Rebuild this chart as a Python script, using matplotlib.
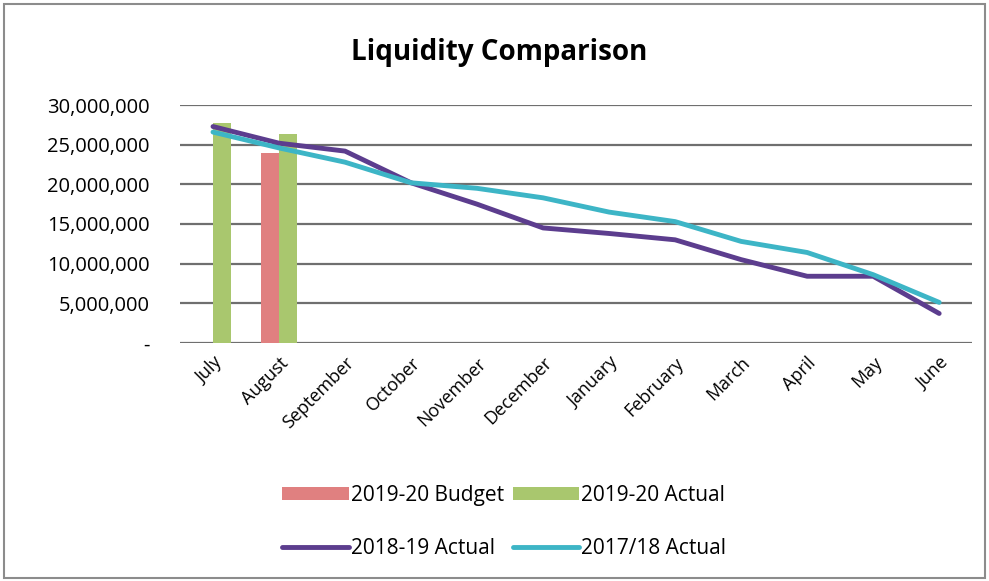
import numpy as np
import matplotlib.pyplot as plt
from matplotlib.patches import Rectangle
from matplotlib.ticker import FuncFormatter

months = ["July", "August", "September", "October", "November", "December",
          "January", "February", "March", "April", "May", "June"]
budget_1920 = [0, 23.9e6] + [np.nan] * 10
actual_1920 = [27.7e6, 26.3e6] + [np.nan] * 10
actual_1819 = [27.3e6, 25.2e6, 24.2e6, 20.2e6, 17.5e6, 14.5e6,
               13.8e6, 13.0e6, 10.5e6, 8.4e6, 8.4e6, 3.7e6]
actual_1718 = [26.6e6, 24.6e6, 22.8e6, 20.2e6, 19.5e6, 18.3e6,
               16.5e6, 15.3e6, 12.8e6, 11.4e6, 8.6e6, 5.1e6]

plt.rcParams['font.family'] = ['Open Sans', 'DejaVu Sans']

fig = plt.figure(figsize=(9.89, 5.81), dpi=100)
fig.patches.append(Rectangle((0.004, 0.005), 0.992, 0.988, transform=fig.transFigure,
                             fill=False, edgecolor='#8c8c8c', linewidth=1.5))
ax = fig.add_axes([0.182, 0.410, 0.801, 0.409])

x = np.arange(len(months))
w = 0.27
red = '#E08080'
green = '#A9C76E'
purple = '#5C3D8E'
cyan = '#3DB5C6'

b1 = ax.bar(x - w / 2, budget_1920, w, color=red, label='2019-20 Budget', zorder=2)
b2 = ax.bar(x + w / 2, actual_1920, w, color=green, label='2019-20 Actual', zorder=2)
l1, = ax.plot(x, actual_1819, color=purple, linewidth=3.5, label='2018-19 Actual',
              solid_capstyle='round', zorder=3)
l2, = ax.plot(x, actual_1718, color=cyan, linewidth=3.5, label='2017/18 Actual',
              solid_capstyle='round', zorder=3)

ax.set_ylim(0, 30e6)
ax.set_yticks(np.arange(0, 30e6 + 1, 5e6))
ax.yaxis.set_major_formatter(FuncFormatter(lambda v, p: '-' if v == 0 else f'{v:,.0f}'))
ax.set_xlim(-0.5, len(months) - 0.5)
ax.set_xticks(x)
ax.set_xticklabels(months, rotation=45, ha='right', rotation_mode='anchor')
ax.tick_params(axis='both', length=0, labelsize=13)
ax.tick_params(axis='y', labelsize=14.5, pad=22)
ax.tick_params(axis='x', pad=8)
ax.grid(axis='y', color='#6f6f6f', linewidth=1.6, zorder=0)
ax.set_axisbelow(True)
for s in ax.spines.values():
    s.set_visible(False)

fig.text(0.505, 0.91, 'Liquidity Comparison', ha='center', va='center',
         fontsize=20, fontweight='bold')

# legend fills column by column: bars on the first row, lines on the second
handles = [b1, l1, b2, l2]
fig.legend(handles, [h.get_label() for h in handles],
           loc='center', bbox_to_anchor=(0.51, 0.102), ncol=2, frameon=False,
           fontsize=15, handlelength=3.2, handleheight=0.6, columnspacing=0.4,
           handletextpad=0.1, labelspacing=1.55)

fig.savefig('out.png', dpi=100)
